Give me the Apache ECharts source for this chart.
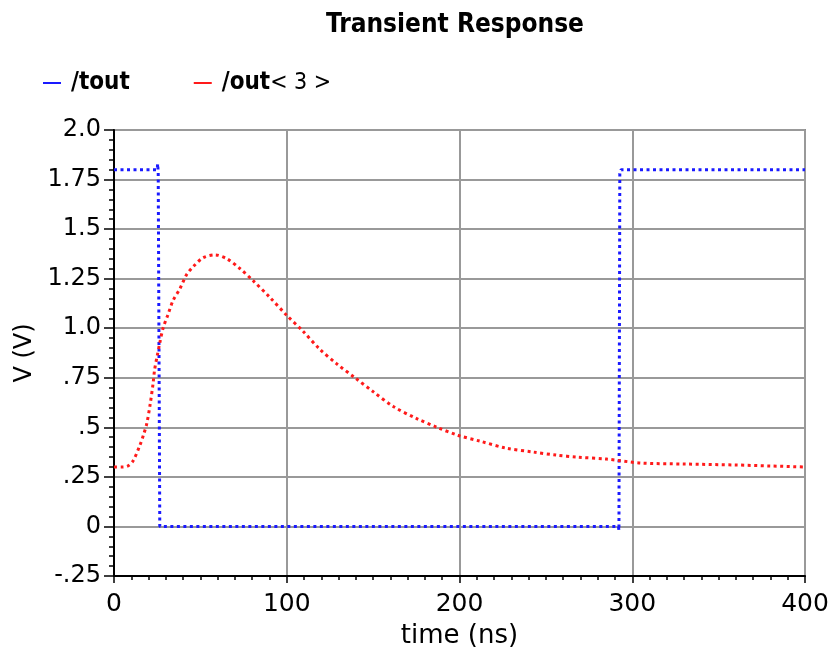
<!DOCTYPE html>
<html><head><meta charset="utf-8">
<script src="https://cdn.jsdelivr.net/npm/echarts@6/dist/echarts.min.js"></script>
<style>html,body{margin:0;padding:0;background:#fff}#c{width:835px;height:647px}</style>
</head><body><div id="c"></div>
<script>
const toutT = [0, 25, 25.3, 25.6, 26.5, 292, 292.3, 292.8, 293.5, 400];
const toutV = [1.8, 1.8, 1.83, 1.78, 0, 0, -0.02, 1.78, 1.8, 1.8];
const outT = [0, 5, 8, 11, 15, 17, 19, 21, 22.6, 23.5, 25, 26.6, 28.4, 31.3, 34.2, 38.2, 42, 45.8, 51.5, 58.5, 65.4, 73, 80.5, 90.3, 100, 109.4, 119, 129, 139.5, 150, 161.7, 175, 187, 199, 212, 227, 243, 256, 268, 285, 305, 330, 360, 380, 400];
const outV = [0.30, 0.30, 0.305, 0.33, 0.41, 0.46, 0.52, 0.62, 0.72, 0.79, 0.86, 0.93, 1.0, 1.07, 1.14, 1.20, 1.27, 1.31, 1.355, 1.37, 1.35, 1.30, 1.24, 1.155, 1.065, 0.985, 0.895, 0.82, 0.75, 0.68, 0.605, 0.545, 0.50, 0.46, 0.43, 0.395, 0.375, 0.36, 0.35, 0.34, 0.32, 0.315, 0.31, 0.305, 0.30];
const yTickValues = [-0.25, 0, 0.25, 0.5, 0.75, 1.0, 1.25, 1.5, 1.75, 2.0];
const yTickLabels = ['-.25', '0', '.25', '.5', '.75', '1.0', '1.25', '1.5', '1.75', '2.0'];
const seriesNames = ['/tout', '/out<3>'];

const font = 'DejaVu Sans';
const condensed = "'DejaVu Sans Condensed', 'DejaVu Sans'";
const chart = echarts.init(document.getElementById('c'));
function pairs(t, v) { return t.map((x, i) => [x, v[i]]); }
chart.setOption({
  animation: false,
  backgroundColor: '#fff',
  title: { text: 'Transient Response', left: 450, textAlign: 'center', top: 7,
    textStyle: { fontFamily: condensed, fontSize: 26, fontWeight: 'bold', color: '#000' } },
  legend: { left: 38, top: 66, itemGap: 64, itemWidth: 18, itemHeight: 2,
    data: seriesNames.map(n => ({ name: n, icon: 'rect' })),
    formatter: n => n.indexOf('<') >= 0 ? '{b|' + n.slice(0, n.indexOf('<')) + '}{r|' + n.slice(n.indexOf('<')).split('').join(' ') + '}' : '{b|' + n + '}',
    textStyle: { fontFamily: condensed, fontSize: 24, fontWeight: 'bold', color: '#000', padding: [0,0,0,5],
      rich: { b: { fontFamily: condensed, fontSize: 24, fontWeight: 'bold', color: '#000' },
              r: { fontFamily: condensed, fontSize: 23, fontWeight: 'normal', color: '#000' } } } },
  grid: { left: 114, right: 30, top: 130, bottom: 71, show: true, borderColor: '#333', borderWidth: 1.5,
    containLabel: false, outerBoundsMode: 'none' },
  xAxis: { type: 'value', min: 0, max: 400, interval: 100,
    name: 'time (ns)', nameLocation: 'middle', nameGap: 47,
    nameTextStyle: { fontFamily: font, fontSize: 26, color: '#000' },
    axisLine: { onZero: false, lineStyle: { color: '#000', width: 2 } },
    axisTick: { show: true, length: 7, lineStyle: { color: '#000', width: 1.5 } },
    minorTick: { show: true, splitNumber: 10, length: 4, lineStyle: { color: '#000', width: 1.5 } },
    splitLine: { show: true, lineStyle: { color: '#999', width: 2 } },
    axisLabel: { fontFamily: font, fontSize: 25, color: '#000', margin: 16 } },
  yAxis: { type: 'value', min: -0.25, max: 2.0, interval: 0.25,
    name: 'V (V)', nameLocation: 'middle', nameGap: 67,
    nameTextStyle: { fontFamily: font, fontSize: 24, color: '#000' },
    axisLine: { lineStyle: { color: '#000', width: 2 } },
    axisTick: { show: true, length: 10, lineStyle: { color: '#000', width: 1.5 } },
    minorTick: { show: true, splitNumber: 5, length: 5, lineStyle: { color: '#000', width: 1.5 } },
    splitLine: { show: true, lineStyle: { color: '#999', width: 2 } },
    axisLabel: { fontFamily: font, fontSize: 24, color: '#000', margin: 13,
      formatter: v => { const i = yTickValues.findIndex(x => Math.abs(x - v) < 1e-6); return i >= 0 ? yTickLabels[i] : ''; } } },
  series: [
    { name: seriesNames[0], type: 'line', data: pairs(toutT, toutV), showSymbol: false, color: '#1a1aff',
      lineStyle: { color: '#1a1aff', width: 3, type: [3, 3.5] } },
    { name: seriesNames[1], type: 'line', data: pairs(outT, outV), smooth: 0.3, showSymbol: false, color: '#ff1a1a',
      lineStyle: { color: '#ff1a1a', width: 3, type: [3, 3.5] } }
  ]
});
</script></body></html>
